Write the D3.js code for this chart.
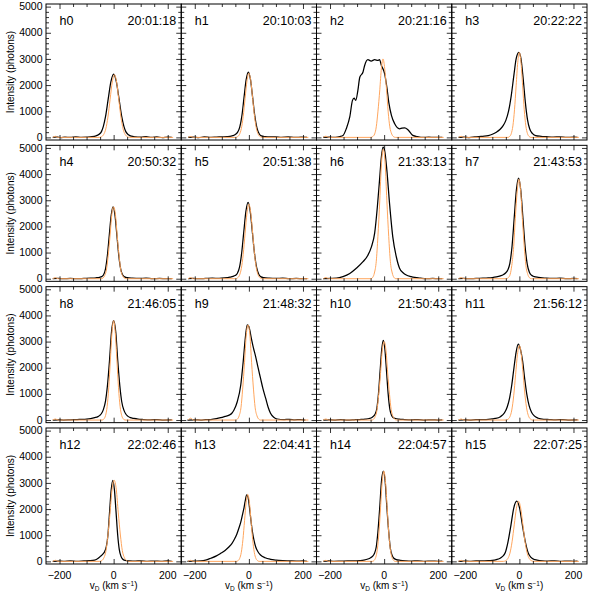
<!DOCTYPE html>
<html><head><meta charset="utf-8">
<script src="https://cdn.jsdelivr.net/npm/d3@7"></script>
<style>html,body{margin:0;padding:0;background:#fff}svg{display:block}text{font-family:"Liberation Sans",Arial,Helvetica,sans-serif;fill:#000}</style>
</head><body>
<svg id="chart" width="598" height="598"></svg>
<script>
// ---------- data ----------
const panelLabels = ["h0","h1","h2","h3","h4","h5","h6","h7","h8","h9","h10","h11","h12","h13","h14","h15"];
const panelTimes = ["20:01:18","20:10:03","20:21:16","20:22:22","20:50:32","20:51:38","21:33:13","21:43:53","21:46:05","21:48:32","21:50:43","21:56:12","22:02:46","22:04:41","22:04:57","22:07:25"];
const yTickValues = [0,1000,2000,3000,4000,5000];
const xTickValues = [-200,0,200];
const xTickLabels = ["\u2212200","0","200"];

// observed profiles [velocity km/s, intensity photons]
const h0Obs = [[-225,0],[-210,15],[-195,-5],[-180,10],[-160,0],[-140,20],[-120,5],[-100,10],[-80,25],[-65,60],[-55,110],[-45,220],[-38,420],[-30,790],[-20,1470],[-10,2130],[0,2420],[10,2130],[20,1470],[30,790],[38,420],[45,220],[55,100],[65,45],[80,20],[100,10],[120,25],[140,0],[160,15],[180,-5],[200,10],[215,0]];
const h1Obs = [[-225,0],[-205,10],[-185,-5],[-165,15],[-140,0],[-120,10],[-100,20],[-80,30],[-65,50],[-55,80],[-48,130],[-42,190],[-34,380],[-26,813],[-18,1518],[-10,2205],[-2,2500],[6,2205],[14,1518],[22,813],[30,350],[38,140],[46,60],[60,30],[80,15],[100,20],[120,5],[145,15],[170,0],[195,10],[215,0]];
const h2Obs = [[-226,0],[-200,10],[-180,0],[-164,30],[-152,75],[-140,330],[-127,780],[-117,1415],[-111,1500],[-105,1415],[-97,1800],[-90,2300],[-78,2500],[-72,2750],[-60,2970],[-48,2920],[-35,2970],[-23,2940],[-17,2970],[-10,2750],[2,2430],[10,1925],[18,1290],[27,840],[39,520],[57,330],[66,350],[76,360],[88,290],[106,75],[125,25],[143,0],[165,10],[185,0],[205,5],[215,0]];
const h3Obs = [[-225,0],[-205,10],[-185,-5],[-165,15],[-150,30],[-130,45],[-115,70],[-100,120],[-85,200],[-72,300],[-60,450],[-50,650],[-40,1000],[-30,1600],[-20,2400],[-12,3000],[-2,3250],[6,3000],[14,2250],[22,1350],[30,680],[38,330],[48,150],[60,70],[80,40],[100,25],[125,10],[150,20],[175,0],[200,10],[215,0]];
const h4Obs = [[-225,0],[-205,10],[-185,0],[-160,15],[-135,0],[-110,10],[-85,20],[-65,35],[-52,55],[-44,80],[-37,150],[-30,380],[-23,894],[-16,1669],[-9,2426],[-2,2750],[5,2426],[12,1669],[19,894],[26,380],[33,150],[40,70],[50,40],[70,20],[95,10],[120,20],[145,0],[170,10],[195,0],[215,5]];
const h5Obs = [[-225,0],[-205,15],[-185,0],[-160,10],[-135,20],[-110,15],[-90,30],[-70,60],[-58,90],[-51,120],[-43,200],[-35,420],[-27,949],[-19,1772],[-11,2575],[-3,2920],[5,2575],[13,1772],[21,949],[29,410],[37,160],[45,70],[55,40],[75,20],[100,10],[125,20],[150,0],[175,10],[200,0],[215,5]];
const h6Obs = [[-226,0],[-200,10],[-176,20],[-152,80],[-127,200],[-103,400],[-78,650],[-60,900],[-47,1220],[-35,1740],[-25,2750],[-17,3770],[-10,4670],[-4,5030],[2,4900],[10,4160],[20,2880],[32,1600],[45,840],[57,400],[70,230],[82,140],[100,80],[113,50],[135,20],[155,0],[180,10],[200,0],[215,5]];
const h7Obs = [[-225,0],[-205,10],[-185,0],[-160,15],[-135,20],[-115,30],[-100,45],[-85,70],[-70,110],[-60,150],[-51,220],[-43,330],[-35,600],[-27,1251],[-19,2337],[-11,3396],[-3,3850],[5,3396],[13,2337],[21,1251],[29,560],[37,250],[45,130],[55,80],[70,55],[85,35],[100,20],[125,10],[150,20],[175,0],[200,10],[215,0]];
const h8Obs = [[-225,0],[-205,10],[-185,0],[-160,10],[-135,20],[-115,25],[-100,35],[-85,55],[-70,90],[-58,130],[-50,190],[-45,250],[-38,400],[-30,720],[-23,1300],[-15,2307],[-8,3352],[0,3800],[8,3352],[15,2307],[23,1300],[30,700],[38,380],[45,230],[52,150],[62,90],[75,60],[90,35],[110,20],[135,10],[160,20],[185,0],[215,5]];
const h9Obs = [[-227,0],[-200,10],[-178,0],[-160,15],[-141,20],[-120,50],[-104,90],[-88,140],[-73,190],[-63,260],[-55,385],[-43,700],[-30,1340],[-21,2230],[-12,3250],[-6,3640],[0,3580],[9,3130],[17,2750],[25,2425],[34,2000],[43,1600],[52,1200],[62,835],[71,500],[80,260],[92,110],[105,40],[130,20],[150,30],[170,10],[190,15],[209,0]];
const h10Obs = [[-225,0],[-205,10],[-185,0],[-160,15],[-135,0],[-110,10],[-90,20],[-70,35],[-55,60],[-45,100],[-39,150],[-33,230],[-27,440],[-21,991],[-15,1851],[-9,2690],[-3,3050],[3,2690],[9,1851],[15,991],[21,430],[27,190],[33,100],[42,60],[55,35],[75,20],[100,10],[125,20],[150,0],[175,10],[200,0],[215,5]];
const h11Obs = [[-225,0],[-205,10],[-185,0],[-160,15],[-135,20],[-115,30],[-100,45],[-90,60],[-70,130],[-55,280],[-45,500],[-36,850],[-28,1350],[-20,2000],[-12,2600],[-4,2900],[4,2700],[12,2250],[20,1550],[28,950],[36,550],[45,300],[55,160],[70,70],[90,30],[110,20],[135,10],[160,20],[185,0],[215,5]];
const h12Obs = [[-225,0],[-205,10],[-185,0],[-160,15],[-135,0],[-110,15],[-90,25],[-70,50],[-57,120],[-48,200],[-40,280],[-33,380],[-27,560],[-21,1008],[-15,1882],[-9,2734],[-3,3100],[3,2734],[9,1882],[15,1008],[21,450],[27,200],[33,90],[42,40],[60,20],[80,10],[100,20],[125,0],[150,10],[175,0],[200,15],[215,0]];
const h13Obs = [[-227,0],[-200,10],[-178,20],[-160,50],[-141,120],[-120,210],[-104,310],[-88,420],[-73,560],[-63,680],[-55,820],[-45,1030],[-37,1265],[-30,1500],[-24,1770],[-18,2050],[-14,2280],[-8,2540],[-3,2450],[4,1900],[9,1450],[13,1135],[19,800],[25,560],[33,380],[43,245],[60,140],[80,80],[100,50],[125,30],[150,20],[175,10],[200,15],[215,0]];
const h14Obs = [[-225,0],[-205,15],[-185,0],[-160,10],[-135,20],[-110,15],[-90,30],[-75,50],[-60,90],[-50,140],[-42,200],[-36,300],[-29,560],[-23,1121],[-16,2094],[-10,3043],[-3,3450],[4,3043],[10,2094],[17,1121],[23,500],[30,220],[36,120],[45,70],[60,40],[80,20],[100,10],[125,20],[150,0],[175,10],[200,0],[215,5]];
const h15Obs = [[-225,0],[-205,10],[-185,0],[-160,15],[-135,20],[-115,25],[-100,40],[-85,70],[-73,110],[-63,180],[-52,340],[-42,748],[-31,1396],[-21,2029],[-10,2300],[1,2029],[11,1396],[22,748],[32,340],[43,150],[53,80],[65,50],[85,20],[105,10],[130,20],[155,0],[180,10],[200,0],[215,5]];

// fitted profiles
const h0Fit = [[-225,0],[-215,40],[-205,0],[-53,0],[-45,26],[-37,106],[-29,324],[-21,780],[-13,1457],[-5,2117],[3,2400],[11,2117],[19,1457],[27,780],[35,324],[43,106],[51,26],[59,0],[220,0]];
const h1Fit = [[-225,0],[-215,35],[-205,0],[-49,0],[-42,27],[-35,108],[-28,331],[-21,796],[-14,1487],[-7,2161],[0,2450],[7,2161],[14,1487],[21,796],[28,331],[35,108],[42,27],[49,0],[220,0]];
const h2Fit = [[-225,0],[-215,45],[-205,0],[-50,0],[-42,33],[-35,132],[-29,405],[-23,975],[-16,1821],[-10,2646],[-4,3000],[2,2646],[9,1821],[15,975],[21,405],[28,132],[34,33],[42,0],[220,0]];
const h3Fit = [[-225,0],[-215,40],[-205,0],[-42,0],[-36,36],[-30,143],[-24,439],[-18,1056],[-12,1973],[-6,2867],[0,3250],[6,2867],[12,1973],[18,1056],[24,439],[30,143],[36,36],[42,0],[220,0]];
const h4Fit = [[-225,0],[-215,40],[-205,0],[-46,0],[-39,30],[-33,121],[-26,371],[-20,894],[-13,1669],[-7,2426],[0,2750],[7,2426],[13,1669],[20,894],[26,371],[33,121],[39,30],[46,0],[220,0]];
const h5Fit = [[-225,0],[-215,40],[-205,0],[-49,0],[-42,31],[-35,125],[-28,385],[-21,926],[-14,1730],[-7,2514],[0,2850],[7,2514],[14,1730],[21,926],[28,385],[35,125],[42,31],[49,0],[220,0]];
const h6Fit = [[-225,0],[-215,45],[-205,0],[-49,0],[-42,54],[-36,218],[-29,668],[-23,1609],[-16,3005],[-10,4366],[-3,4950],[4,4366],[10,3005],[17,1609],[23,668],[30,218],[36,54],[43,0],[220,0]];
const h7Fit = [[-225,0],[-215,40],[-205,0],[-48,0],[-41,42],[-34,167],[-28,513],[-21,1235],[-15,2307],[-8,3352],[-2,3800],[5,3352],[11,2307],[18,1235],[24,513],[31,167],[37,42],[44,0],[220,0]];
const h8Fit = [[-225,0],[-215,40],[-205,0],[-42,0],[-36,42],[-30,167],[-24,513],[-18,1235],[-12,2307],[-6,3352],[0,3800],[6,3352],[12,2307],[18,1235],[24,513],[30,167],[36,42],[42,0],[220,0]];
const h9Fit = [[-225,0],[-215,70],[-205,0],[-49,0],[-42,40],[-36,160],[-29,491],[-23,1183],[-16,2209],[-10,3210],[-3,3640],[4,3210],[10,2209],[17,1183],[23,491],[30,160],[36,40],[43,0],[220,0]];
const h10Fit = [[-225,0],[-215,40],[-205,0],[-46,0],[-39,33],[-33,132],[-26,405],[-20,975],[-13,1821],[-7,2646],[0,3000],[7,2646],[13,1821],[20,975],[26,405],[33,132],[39,33],[46,0],[220,0]];
const h11Fit = [[-225,0],[-215,40],[-205,0],[-49,0],[-42,31],[-35,125],[-28,385],[-21,926],[-14,1730],[-7,2514],[0,2850],[7,2514],[14,1730],[21,926],[28,385],[35,125],[42,31],[49,0],[220,0]];
const h12Fit = [[-225,0],[-215,40],[-205,0],[-51,0],[-43,34],[-36,136],[-28,419],[-21,1008],[-13,1882],[-6,2734],[2,3100],[10,2734],[17,1882],[25,1008],[32,419],[40,136],[47,34],[55,0],[220,0]];
const h13Fit = [[-225,0],[-215,40],[-205,0],[-46,0],[-40,28],[-34,113],[-28,346],[-22,832],[-16,1554],[-10,2258],[-4,2560],[2,2258],[8,1554],[14,832],[20,346],[26,113],[32,28],[38,0],[220,0]];
const h14Fit = [[-225,0],[-215,40],[-205,0],[-43,0],[-37,38],[-31,152],[-25,466],[-19,1121],[-13,2094],[-7,3043],[-1,3450],[5,3043],[11,2094],[17,1121],[23,466],[29,152],[35,38],[41,0],[220,0]];
const h15Fit = [[-225,0],[-215,40],[-205,0],[-59,0],[-51,25],[-43,101],[-35,311],[-27,748],[-19,1396],[-11,2029],[-3,2300],[5,2029],[13,1396],[21,748],[29,311],[37,101],[45,25],[53,0],[220,0]];

const observed = [h0Obs,h1Obs,h2Obs,h3Obs,h4Obs,h5Obs,h6Obs,h7Obs,h8Obs,h9Obs,h10Obs,h11Obs,h12Obs,h13Obs,h14Obs,h15Obs];
const fitted = [h0Fit,h1Fit,h2Fit,h3Fit,h4Fit,h5Fit,h6Fit,h7Fit,h8Fit,h9Fit,h10Fit,h11Fit,h12Fit,h13Fit,h14Fit,h15Fit];

// ---------- layout ----------
(function draw() {
const svg = d3.select("#chart");
const mLeft = 46, mRight = 587, mTop = 4, ph = 136, rowStep = 141.33;
const pw = (mRight - mLeft) / 4;
const x = d3.scaleLinear().domain([-250, 250]).range([0, pw]);
const y = d3.scaleLinear().domain([-100, 5100]).range([ph, 0]);
const fitColor = "#ffa65e";

const line = d3.line().x(d => x(d[0])).y(d => y(d[1])).curve(d3.curveMonotoneX);

const xMinor = d3.range(-250, 251, 50).filter(v => v % 200 !== 0 && v > -250 && v < 250);
const yMinor = d3.range(0, 5001, 200).filter(v => v % 1000 !== 0);

panelLabels.forEach((lab, i) => {
  const col = i % 4, row = Math.floor(i / 4);
  const g = svg.append("g").attr("transform", `translate(${mLeft + col * pw},${mTop + row * rowStep})`);
  const clipId = "clip" + i;
  g.append("clipPath").attr("id", clipId).append("rect").attr("width", pw).attr("height", ph);

  const plot = g.append("g").attr("clip-path", `url(#${clipId})`);
  plot.append("path").datum(observed[i]).attr("d", line)
    .attr("fill", "none").attr("stroke", "#000").attr("stroke-width", 1.25).attr("stroke-linejoin", "round");
  plot.append("path").datum(fitted[i]).attr("d", line)
    .attr("fill", "none").attr("stroke", fitColor).attr("stroke-width", 1).attr("stroke-linejoin", "round");

  const addAxis = (axis, tx, ty) => {
    const a = g.append("g").attr("transform", `translate(${tx},${ty})`).call(axis);
    a.select(".domain").remove();
    a.selectAll("line").attr("stroke", "#000").attr("stroke-width", 0.8);
    a.selectAll("text").remove();
  };
  addAxis(d3.axisBottom(x).tickValues(xTickValues).tickSize(-5), 0, ph);
  addAxis(d3.axisBottom(x).tickValues(xMinor).tickSize(-3), 0, ph);
  addAxis(d3.axisTop(x).tickValues(xTickValues).tickSize(-5), 0, 0);
  addAxis(d3.axisTop(x).tickValues(xMinor).tickSize(-3), 0, 0);
  addAxis(d3.axisLeft(y).tickValues(yTickValues).tickSize(-5), 0, 0);
  addAxis(d3.axisLeft(y).tickValues(yMinor).tickSize(-3), 0, 0);
  addAxis(d3.axisRight(y).tickValues(yTickValues).tickSize(-5), pw, 0);
  addAxis(d3.axisRight(y).tickValues(yMinor).tickSize(-3), pw, 0);

  g.append("rect").attr("width", pw).attr("height", ph)
    .attr("fill", "none").attr("stroke", "#000").attr("stroke-width", 1);

  g.append("text").attr("x", 13.5).attr("y", 21).attr("font-size", 12.5).text(lab);
  g.append("text").attr("x", pw - 5).attr("y", 21).attr("font-size", 12.5).attr("text-anchor", "end").text(panelTimes[i]);

  if (col === 0) {
    yTickValues.forEach(v => {
      g.append("text").attr("x", -3.5).attr("y", y(v) + 3.6).attr("font-size", 10.5)
        .attr("text-anchor", "end").text(String(v));
    });
    g.append("text").attr("transform", `translate(-32,${ph / 2}) rotate(-90)`)
      .attr("font-size", 10).attr("text-anchor", "middle").text("Intensity (photons)");
  }
  if (row === 3) {
    xTickValues.forEach((v, k) => {
      g.append("text").attr("x", x(v)).attr("y", ph + 15).attr("font-size", 10.5)
        .attr("text-anchor", "middle").text(xTickLabels[k]);
    });
    const t = g.append("text").attr("x", pw / 2).attr("y", ph + 25.5).attr("font-size", 10)
      .attr("text-anchor", "middle");
    t.append("tspan").text("v");
    t.append("tspan").attr("font-size", 6.5).attr("dy", 1.5).text("D");
    t.append("tspan").attr("dy", -1.5).text(" (km s");
    t.append("tspan").attr("font-size", 6.5).attr("dy", -3.5).text("\u22121");
    t.append("tspan").attr("dy", 3.5).text(")");
  }
});
})();
</script>
</body></html>
